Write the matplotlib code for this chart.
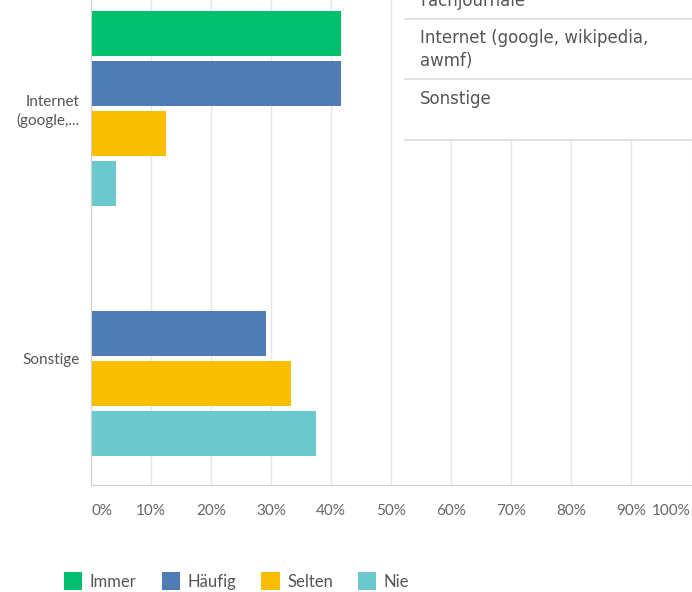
import matplotlib.pyplot as plt
from matplotlib.patches import Patch, Rectangle
from matplotlib.lines import Line2D

# Antworten je Quelle (Anteil in %)
kategorien = ['Sonstige', 'Internet\n(google,...']
antworten = ['Immer', 'Häufig', 'Selten', 'Nie']
farben = ['#00BF6F', '#507CB6', '#F9BE00', '#6BC8CD']
werte = {
    'Immer':  [0.0, 41.67],
    'Häufig': [29.17, 41.67],
    'Selten': [33.33, 12.5],
    'Nie':    [37.5, 4.17],
}
xticks = list(range(0, 101, 10))
tabelle = ['Fachjournale', 'Internet (google, wikipedia,\nawmf)', 'Sonstige']

W, H = 692, 592
fig = plt.figure(figsize=(W / 100, H / 100), dpi=100)
ax = fig.add_axes([91 / W, 107 / H, 600 / W, 485 / H])

versatz = [0.3, 0.1, -0.1, -0.3]
for antwort, farbe, dy in zip(antworten, farben, versatz):
    y = [i + dy for i in range(len(kategorien))]
    ax.barh(y, werte[antwort], height=0.18, color=farbe, zorder=3)

ax.set_xlim(0, 100)
ax.set_ylim(-0.506, 1.434)
ax.set_xticks(xticks)
labels = ax.set_xticklabels([f'{t}%' for t in xticks], fontsize=11, color='#666666', family='Lato')
labels[0].set_ha('left')
labels[-1].set_ha('right')
ax.set_yticks(range(len(kategorien)))
ax.set_yticklabels(kategorien, fontsize=11, color='#555555', family='Lato', linespacing=1.25)
ax.tick_params(axis='x', length=0, pad=14)
ax.tick_params(axis='y', length=0, pad=8)
ax.grid(axis='x', color='#e6e6e6', linewidth=1, zorder=0)
for s in ['top', 'right']:
    ax.spines[s].set_visible(False)
for s in ['left', 'bottom']:
    ax.spines[s].set_color('#cfcfcf')
    ax.spines[s].set_zorder(4)

# weisse Tabelle oben rechts
fig.add_artist(Rectangle((405 / W, 1 - 141 / H), 1, 141 / H,
                         transform=fig.transFigure, facecolor='white', edgecolor='none', zorder=5))
for yl in [19, 79, 140]:
    fig.add_artist(Line2D([405 / W, 1], [1 - yl / H] * 2, transform=fig.transFigure,
                          color='#dcdcdc', linewidth=1.2, zorder=6))
fig.text(420 / W, 1 - 6 / H, tabelle[0], fontsize=12, color='#555555', va='baseline', zorder=7)
fig.text(420 / W, 1 - 29 / H, tabelle[1], fontsize=12, color='#555555', va='top',
         linespacing=1.35, zorder=7)
fig.text(420 / W, 1 - 90 / H, tabelle[2], fontsize=12, color='#555555', va='top', zorder=7)

handles = [Patch(facecolor=f, edgecolor='none') for f in farben]
leg = fig.legend(handles, antworten, loc='center left', bbox_to_anchor=(49 / W, 1 - 581 / H),
                 ncol=4, frameon=False, handlelength=1.1, handleheight=1.2,
                 handletextpad=0.45, columnspacing=1.5,
                 prop={'family': 'Lato', 'size': 12})
for t in leg.get_texts():
    t.set_color('#555555')

fig.savefig('out.png', dpi=100)
